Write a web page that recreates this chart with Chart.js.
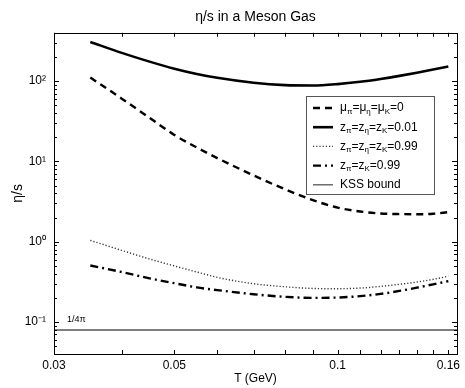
<!DOCTYPE html>
<html>
<head>
<meta charset="utf-8">
<script src="https://cdn.jsdelivr.net/npm/chart.js@4.4.0/dist/chart.umd.min.js"></script>
<style>
  html, body { margin: 0; padding: 0; background: #fff; }
  #wrap { width: 465px; height: 388px; }
</style>
</head>
<body>
<div id="wrap"><canvas id="meson-chart" width="465" height="388"></canvas></div>
<script>
// temperatures (GeV)
const temps = [0.035, 0.04, 0.045, 0.05, 0.055, 0.06, 0.07, 0.08, 0.09, 0.1, 0.11, 0.12, 0.13, 0.14, 0.15, 0.16];
// eta/s for each case
const etaMu0     = [111, 60.5, 35, 21.4, 14.9, 11.0, 6.7, 4.5, 3.3, 2.66, 2.38, 2.25, 2.21, 2.2, 2.23, 2.34];
const etaZ001    = [308, 225, 175, 143, 123, 110, 95.5, 89.3, 88.3, 91.9, 98.2, 106.6, 116.4, 127.4, 139.3, 152];
const etaZ099    = [1.04, 0.78, 0.61, 0.50, 0.42, 0.36, 0.30, 0.275, 0.262, 0.26, 0.265, 0.278, 0.295, 0.315, 0.34, 0.372];
const etaZpiK099 = [0.506, 0.42, 0.35, 0.305, 0.27, 0.25, 0.222, 0.206, 0.2, 0.202, 0.21, 0.224, 0.244, 0.268, 0.295, 0.323];
const kssBound = 1 / (4 * Math.PI);

const seriesNames = ['μ_π=μ_η=μ_K=0', 'z_π=z_η=z_K=0.01', 'z_π=z_η=z_K=0.99', 'z_π=z_K=0.99', 'KSS bound'];

// axes
const xRange = [0.03, 0.166];
const yRange = [0.04, 400];
const xTicks = [0.03, 0.04, 0.05, 0.06, 0.07, 0.08, 0.09, 0.1, 0.11, 0.12, 0.13, 0.14, 0.15, 0.16];
const xLabelValues = [0.03, 0.05, 0.1, 0.16];
const xLabels = ['0.03', '0.05', '0.1', '0.16'];
const yTicks = [0.04, 0.05, 0.06, 0.07, 0.08, 0.09, 0.1, 0.2, 0.3, 0.4, 0.5, 0.6, 0.7, 0.8, 0.9,
                1, 2, 3, 4, 5, 6, 7, 8, 9, 10, 20, 30, 40, 50, 60, 70, 80, 90, 100, 200, 300, 400];
const yLabelValues = [0.1, 1, 10, 100];
const yLabels = ['10⁻¹', '10⁰', '10¹', '10²'];

const FONT = '"Liberation Sans", Arial, Helvetica, sans-serif';

function near(a, b) { return Math.abs(a - b) < b * 1e-6; }
function toPoints(ys) { return temps.map((t, i) => ({ x: t, y: ys[i] })); }

// line styles, also reused for legend samples
const styles = [
  { color: '#000', width: 2.4, dash: [7, 5] },
  { color: '#000', width: 2.6, dash: [] },
  { color: '#333', width: 1.4, dash: [1.2, 2] },
  { color: '#000', width: 2.4, dash: [8, 4, 2, 4] },
  { color: '#555', width: 1.3, dash: [] }
];

const seriesData = [etaMu0, etaZ001, etaZ099, etaZpiK099];
const datasets = seriesData.map((ys, i) => ({
  label: seriesNames[i],
  data: toPoints(ys),
  borderColor: styles[i].color,
  borderWidth: styles[i].width,
  borderDash: styles[i].dash,
  pointRadius: 0,
  fill: false,
  cubicInterpolationMode: 'monotone'
}));
datasets.push({
  label: seriesNames[4],
  data: [{ x: xRange[0], y: kssBound }, { x: xRange[1], y: kssBound }],
  borderColor: styles[4].color,
  borderWidth: styles[4].width,
  pointRadius: 0,
  fill: false
});

// draws "a_b" style text, char after _ goes subscript
function drawRich(ctx, str, x, y, size) {
  let i = 0;
  while (i < str.length) {
    let ch = str[i];
    if (ch === '_') {
      const s = str[i + 1];
      ctx.font = Math.round(size * 0.68) + 'px ' + FONT;
      ctx.fillText(s, x, y + size * 0.3);
      x += ctx.measureText(s).width;
      i += 2;
      continue;
    }
    ctx.font = size + 'px ' + FONT;
    ctx.fillText(ch, x, y);
    x += ctx.measureText(ch).width;
    i++;
  }
}

const framePlugin = {
  id: 'frame',
  afterDraw(chart) {
    const ctx = chart.ctx;
    const a = chart.chartArea;
    const xs = chart.scales.x, ys = chart.scales.y;
    ctx.save();
    ctx.strokeStyle = '#000';
    ctx.lineWidth = 1;
    ctx.setLineDash([]);
    // box
    ctx.strokeRect(Math.round(a.left) + 0.5, Math.round(a.top) + 0.5,
                   Math.round(a.right - a.left), Math.round(a.bottom - a.top));
    // inward ticks
    ctx.beginPath();
    xTicks.forEach(v => {
      const px = Math.round(xs.getPixelForValue(v)) + 0.5;
      ctx.moveTo(px, a.bottom); ctx.lineTo(px, a.bottom - 4);
      ctx.moveTo(px, a.top); ctx.lineTo(px, a.top + 4);
    });
    yTicks.forEach(v => {
      const py = Math.round(ys.getPixelForValue(v)) + 0.5;
      const len = yLabelValues.some(m => near(v, m)) ? 5 : 3;
      ctx.moveTo(a.left, py); ctx.lineTo(a.left + len, py);
      ctx.moveTo(a.right, py); ctx.lineTo(a.right - len, py);
    });
    ctx.stroke();

    // 1/4pi label over KSS line
    ctx.fillStyle = '#000';
    ctx.font = '9px ' + FONT;
    ctx.textBaseline = 'middle';
    ctx.fillText('1/4π', xs.getPixelForValue(0.0317), ys.getPixelForValue(kssBound) - 10);

    // legend
    const lx = 306, ly = 96, lw = 128, lh = 98;
    ctx.fillStyle = '#fff';
    ctx.fillRect(lx, ly, lw, lh);
    ctx.strokeStyle = '#555';
    ctx.strokeRect(lx + 0.5, ly + 0.5, lw, lh);
    seriesNames.forEach((name, i) => {
      const cy = ly + 12 + i * 19.2;
      const st = styles[i];
      ctx.beginPath();
      ctx.strokeStyle = st.color;
      ctx.lineWidth = st.width;
      ctx.setLineDash(st.dash);
      ctx.moveTo(313, cy); ctx.lineTo(333, cy);
      ctx.stroke();
      ctx.setLineDash([]);
      ctx.fillStyle = '#000';
      ctx.textBaseline = 'middle';
      drawRich(ctx, name, 340, cy, 12);
    });
    ctx.restore();
  }
};

new Chart(document.getElementById('meson-chart'), {
  type: 'line',
  data: { datasets: datasets },
  options: {
    responsive: false,
    animation: false,
    devicePixelRatio: 1,
    layout: { padding: { left: 0, right: 8, top: 0, bottom: 0 } },
    plugins: {
      legend: { display: false },
      tooltip: { enabled: false },
      title: {
        display: true,
        text: 'η/s in a Meson Gas',
        fullSize: false,
        color: '#000',
        font: { family: FONT, size: 14, weight: 'normal' },
        padding: { top: 9, bottom: 7 }
      }
    },
    scales: {
      x: {
        type: 'logarithmic',
        min: xRange[0],
        max: xRange[1],
        grid: { display: false, drawTicks: false },
        border: { display: false },
        afterBuildTicks: s => { s.ticks = xTicks.map(v => ({ value: v })); },
        afterFit: s => { s.height = 34; },
        ticks: {
          autoSkip: false,
          maxRotation: 0,
          padding: 4,
          color: '#000',
          font: { family: FONT, size: 12 },
          callback: v => {
            const k = xLabelValues.findIndex(m => near(v, m));
            return k >= 0 ? xLabels[k] : '';
          }
        },
        title: {
          display: true,
          text: 'T (GeV)',
          color: '#000',
          font: { family: FONT, size: 12 },
          padding: { top: 0, bottom: 2 }
        }
      },
      y: {
        type: 'logarithmic',
        min: yRange[0],
        max: yRange[1],
        grid: { display: false, drawTicks: false },
        border: { display: false },
        afterBuildTicks: s => { s.ticks = yTicks.map(v => ({ value: v })); },
        afterFit: s => { s.width = 54; },
        ticks: {
          autoSkip: false,
          padding: 8,
          color: '#000',
          font: { family: FONT, size: 12 },
          callback: v => {
            const k = yLabelValues.findIndex(m => near(v, m));
            return k >= 0 ? yLabels[k] : '';
          }
        },
        title: {
          display: true,
          text: 'η/s',
          color: '#000',
          font: { family: FONT, size: 14 },
          padding: { top: 10, bottom: 10 }
        }
      }
    }
  },
  plugins: [framePlugin]
});
</script>
</body>
</html>
